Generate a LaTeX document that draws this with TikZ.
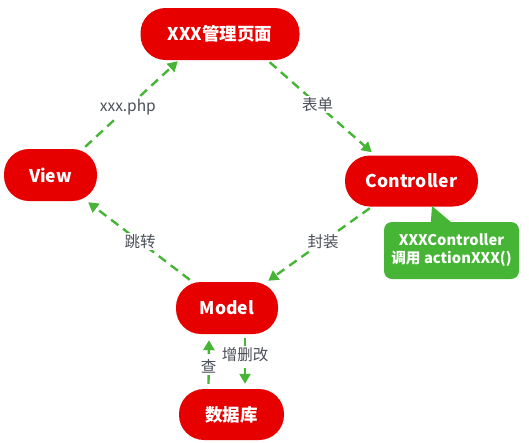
\documentclass[tikz,border=0pt]{standalone}
\usepackage{fontspec}
\setmainfont{Noto Sans CJK SC}
\usetikzlibrary{arrows.meta,calc}
\definecolor{mred}{HTML}{E60000}
\definecolor{mgreen}{HTML}{46B535}
\definecolor{mtext}{HTML}{4B4F58}
\tikzset{
  pill/.style={fill=mred,text=white,font=\fontsize{17.5}{19}\selectfont\bfseries,rounded corners=25pt,inner sep=0pt,anchor=center},
  flow/.style={draw=mgreen,line width=2.4pt,dash pattern=on 9pt off 6pt,-{Triangle[length=10pt,width=11pt]}},
  lbl/.style={fill=white,text=mtext,font=\fontsize{15.5}{17}\selectfont,inner sep=1.5pt},
  callout/.style={fill=mgreen,text=white,font=\fontsize{14.7}{18}\selectfont\bfseries,rounded corners=8pt,align=center,inner sep=0pt}
}
\begin{document}
\begin{tikzpicture}[x=1pt,y=-1pt]
\useasboundingbox (0,0) rectangle (529,442);
\node[pill,minimum width=159pt,minimum height=52pt] (top) at (220,34) {XXX管理页面};
\node[pill,minimum width=93pt,minimum height=52pt] (view) at (50.5,175) {View};
\node[pill,minimum width=133pt,minimum height=51pt] (ctrl) at (411.5,181) {Controller};
\node[pill,minimum width=102pt,minimum height=52pt] (model) at (227,308) {Model};
\node[pill,minimum width=105pt,minimum height=51pt] (db) at (231.5,414.5) {数据库};
\node[callout,minimum width=135pt,minimum height=57pt] (call) at (451.5,250.5) {XXXController\\调用 actionXXX()};
\coordinate (tip) at (432,206);
\fill[mgreen] (tip) -- ($(call.north west)+(47,1)$) -- ($(call.north west)+(68,1)$) -- cycle;

\draw[flow] ($(view.north east)+(-12,-2)$) -- node[lbl,pos=0.46]{xxx.php} ($(top.south west)+(37.5,1)$);
\draw[flow] ($(top.south east)+(-30,2)$) -- node[lbl,pos=0.47]{表单} ($(ctrl.north west)+(27,-3)$);
\draw[flow] ($(ctrl.south west)+(25,1.5)$) -- node[lbl,pos=0.46]{封装} ($(model.north east)+(-10,-1)$);
\draw[flow] ($(model.north west)+(14,-2)$) -- node[lbl,pos=0.49]{跳转} ($(view.south east)+(-9,1)$);
\draw[flow] ($(db.north)+(-23,-5)$) -- node[lbl,pos=0.4]{查} ($(model.south)+(-18,6)$);
\draw[flow] ($(model.south)+(18,4)$) -- node[lbl,pos=0.37]{增删改} ($(db.north)+(13.5,-5)$);
\end{tikzpicture}
\end{document}
